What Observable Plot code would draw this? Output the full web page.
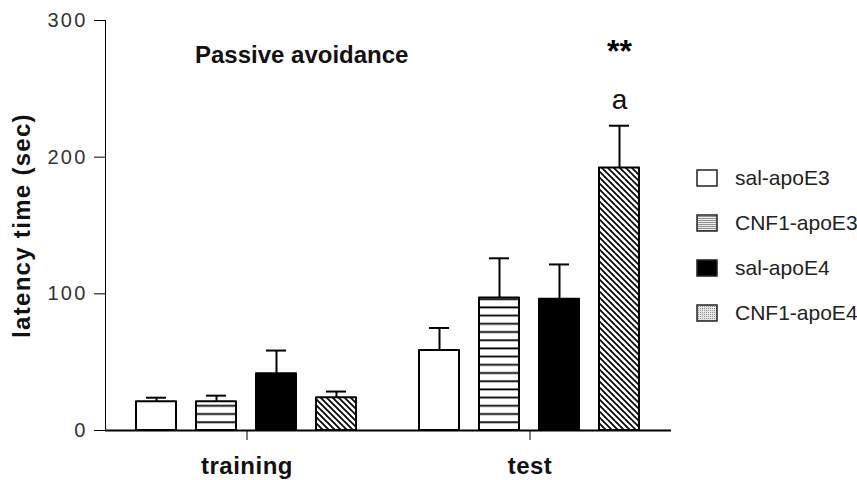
<!DOCTYPE html>
<html>
<head>
<meta charset="utf-8">
<script src="https://cdn.jsdelivr.net/npm/d3@7"></script>
<script src="https://cdn.jsdelivr.net/npm/@observablehq/plot@0.6"></script>
<style>
  html, body { margin: 0; padding: 0; background: #fff; }
  body { font-family: "Liberation Sans", Arial, sans-serif; }
  #wrap { position: relative; width: 857px; height: 480px; overflow: hidden; }
  #title { position: absolute; left: 195px; top: 41px; font-size: 24px; font-weight: bold; color: #111; white-space: nowrap; }
  #legend { position: absolute; left: 696px; top: 155px; }
  .row { display: flex; align-items: center; height: 45px; }
  .row svg { display: block; margin-right: 17px; }
  .row span { font-size: 21px; color: #222; white-space: nowrap; }
  svg [aria-label="y-axis tick label"] text { font-size: 20px; letter-spacing: 2.2px; fill: #333; }
  svg [aria-label="y-axis label"] text { font-size: 24px; letter-spacing: 1.3px; font-weight: bold; fill: #111; }
  svg [aria-label="fx-axis tick label"] text { font-size: 24px; letter-spacing: 0.5px; font-weight: bold; fill: #111; }
</style>
</head>
<body>
<div id="wrap">
  <div id="chart"></div>
  <div id="title">Passive avoidance</div>
  <div id="legend"></div>
</div>
<script>
// ---- data ----
const groups = ["training", "test"];
const series = ["sal-apoE3", "CNF1-apoE3", "sal-apoE4", "CNF1-apoE4"];
const trainingMeans = [21, 21, 41.5, 24];
const trainingErrors = [3, 4.5, 17, 4.5];
const testMeans = [58.5, 97, 96, 192];
const testErrors = [16.5, 29, 25.5, 31];
const yTicks = [0, 100, 200, 300];
const annotationGroup = ["test", "test"];
const annotationSeries = ["CNF1-apoE4", "CNF1-apoE4"];
const annotationLabels = ["**", "a"];
const annotationY = [277, 242];

const barFills = {
  "sal-apoE3": "white",
  "CNF1-apoE3": "url(#hstripes)",
  "sal-apoE4": "black",
  "CNF1-apoE4": "url(#diag)"
};
const legendFills = {
  "sal-apoE3": "white",
  "CNF1-apoE3": "url(#lg-h)",
  "sal-apoE4": "black",
  "CNF1-apoE4": "url(#lg-d)"
};

const data = groups.flatMap((g, gi) => series.map((s, si) => ({
  group: g,
  series: s,
  mean: gi === 0 ? trainingMeans[si] : testMeans[si],
  err: gi === 0 ? trainingErrors[si] : testErrors[si]
})));
const annotations = annotationLabels.map((label, i) => ({
  group: annotationGroup[i], series: annotationSeries[i], label, y: annotationY[i]
}));

const plot = Plot.plot({
  width: 857,
  height: 480,
  marginLeft: 104,
  marginRight: 186,
  marginTop: 20,
  marginBottom: 50,
  style: { fontFamily: "Liberation Sans, Arial, sans-serif", color: "black", background: "white" },
  fx: { domain: groups, padding: 0, label: null, tickSize: 10, tickPadding: 16 },
  x: { domain: series, paddingInner: 0.328, paddingOuter: 0.49, axis: null },
  y: {
    domain: [0, 300], ticks: yTicks, tickSize: 11, tickPadding: 7, line: true,
    label: "latency time (sec)", labelAnchor: "center", labelOffset: 93, labelArrow: "none"
  },
  color: { type: "identity" },
  marks: [
    Plot.ruleX(data, { fx: "group", x: "series", y1: "mean", y2: d => d.mean + d.err, stroke: "black", strokeWidth: 2 }),
    Plot.tickY(data, { fx: "group", x: "series", y: d => d.mean + d.err, stroke: "black", strokeWidth: 2, insetLeft: 10, insetRight: 10 }),
    Plot.barY(data, { fx: "group", x: "series", y: "mean", fill: d => barFills[d.series], stroke: "black", strokeWidth: 2, strokeLinejoin: "round" }),
    Plot.ruleY([0], { stroke: "black", strokeWidth: 2 }),
    Plot.text(annotations.filter(d => d.label === "**"), { fx: "group", x: "series", y: "y", text: "label", fontSize: 32, fontWeight: "bold", fill: "black" }),
    Plot.text(annotations.filter(d => d.label !== "**"), { fx: "group", x: "series", y: "y", text: "label", fontSize: 28, fill: "#111" })
  ]
});

// patterns
const defs = d3.select(plot).insert("defs", ":first-child");
const ph = defs.append("pattern").attr("id", "hstripes").attr("patternUnits", "userSpaceOnUse").attr("width", 8).attr("height", 8.2);
ph.append("rect").attr("width", 8).attr("height", 8.2).attr("fill", "white");
ph.append("line").attr("x1", 0).attr("x2", 8).attr("y1", 4).attr("y2", 4).attr("stroke", "black").attr("stroke-width", 1.8);
const pd = defs.append("pattern").attr("id", "diag").attr("patternUnits", "userSpaceOnUse").attr("width", 6).attr("height", 6);
pd.append("rect").attr("width", 6).attr("height", 6).attr("fill", "white");
pd.append("path").attr("d", "M0,0L6,6M-1,5L1,7M5,-1L7,1").attr("stroke", "black").attr("stroke-width", 1.7);

document.getElementById("chart").appendChild(plot);

// legend
const legend = d3.select("#legend");
series.forEach(s => {
  const row = legend.append("div").attr("class", "row");
  const sw = row.append("svg").attr("width", 22).attr("height", 18);
  if (s === series[0]) {
    const ld = sw.append("defs");
    const a = ld.append("pattern").attr("id", "lg-h").attr("patternUnits", "userSpaceOnUse").attr("width", 4).attr("height", 2);
    a.append("rect").attr("width", 4).attr("height", 2).attr("fill", "#eee");
    a.append("line").attr("x1", 0).attr("x2", 4).attr("y1", 0.5).attr("y2", 0.5).attr("stroke", "#777").attr("stroke-width", 0.8);
    const b = ld.append("pattern").attr("id", "lg-d").attr("patternUnits", "userSpaceOnUse").attr("width", 2).attr("height", 2);
    b.append("rect").attr("width", 2).attr("height", 2).attr("fill", "#e4e4e4");
    b.append("rect").attr("width", 1).attr("height", 1).attr("fill", "#999");
  }
  sw.append("rect").attr("x", 1).attr("y", 1).attr("width", 20).attr("height", 16)
    .attr("fill", legendFills[s]).attr("stroke", "#222").attr("stroke-width", 1.5);
  row.append("span").text(s);
});
</script>
</body>
</html>
